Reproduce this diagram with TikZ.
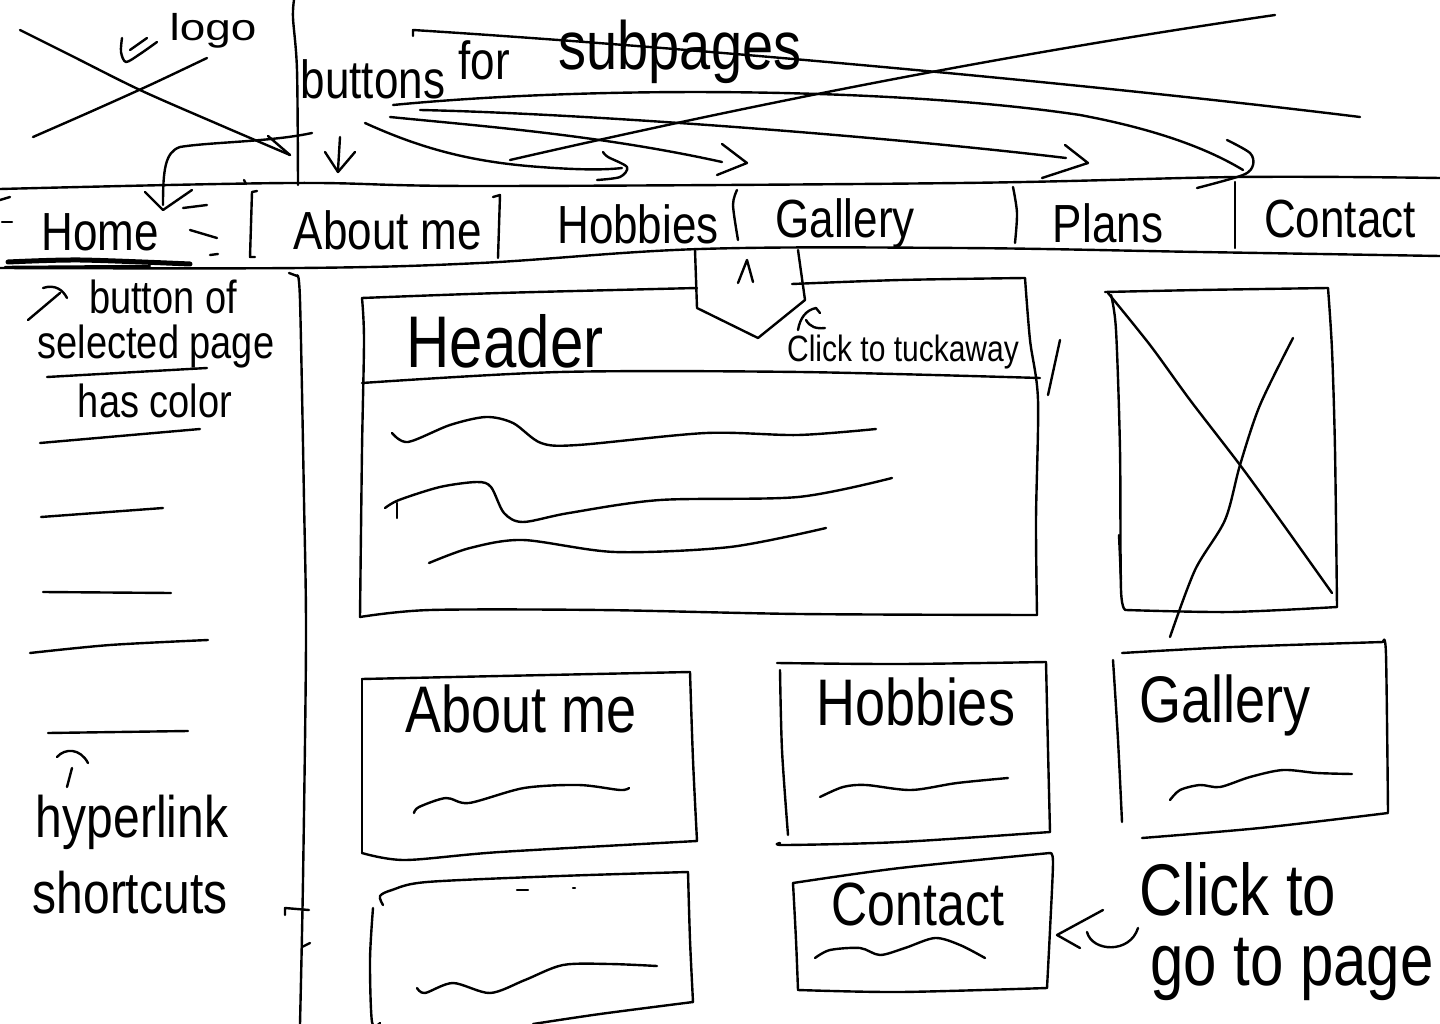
\documentclass[tikz,border=0pt]{standalone}
\usepackage{fontspec}
\usepackage{graphicx}
\setmainfont{Liberation Sans}
\usetikzlibrary{arrows.meta}
\newcommand{\stretchy}[1]{\scalebox{1}[1.22]{#1}}
\begin{document}
\begin{tikzpicture}[x=1pt,y=-1pt,
  ink/.style={line width=2.4pt, line cap=round, line join=round},
  marker/.style={line width=5pt, line cap=round},
  lbl/.style={anchor=base, inner sep=0pt},
  navtxt/.style={lbl, font=\fontsize{44}{50}\selectfont},
  boxtxt/.style={lbl, font=\fontsize{54}{60}\selectfont},
  notetxt/.style={lbl, font=\fontsize{38}{42}\selectfont},
  bigtxt/.style={lbl, font=\fontsize{60}{66}\selectfont},
]
\fill[white] (0,0) rectangle (1440,1024);
\useasboundingbox (0,0) rectangle (1440,1024);

% ---------- navigation bar ----------
\draw[ink] plot[smooth,tension=.6] coordinates {(0,189) (290,183) (480,186) (960,183) (1240,177) (1440,178)};
\draw[ink] plot[smooth,tension=.6] coordinates {(0,268) (300,268) (480,263) (700,249) (960,248) (1200,252) (1440,256)};
% separators between the buttons
\draw[ink] (257,191) -- (252,192) -- (250,257) -- (255,257);
\draw[ink] (244,180) -- (246,184);
\draw[ink] (493,197) -- (500,195) -- (498,258);
\draw[ink] plot[smooth] coordinates {(737,190) (733,205) (738,240)};
\draw[ink] plot[smooth] coordinates {(1013,187) (1017,213) (1015,243)};
\draw[ink] (1235,182) -- (1235,248);
% little dashes round the selected button
\draw[ink] (183,208) -- (207,205);
\draw[ink] (190,230) -- (217,238);
\draw[ink] (210,255) -- (218,254);
\draw[ink] (0,200) -- (10,197);
\draw[ink] (2,222) -- (12,222);
% colour mark under the selected button
\draw[marker] plot[smooth] coordinates {(8,262) (80,260) (190,264)};
\draw[ink] (5,267) -- (150,266);

\node[navtxt] (navHome)    at (100,251)  {\stretchy{Home}};
\node[navtxt] (navAbout)   at (388,250)  {\stretchy{About me}};
\node[navtxt] (navHobbies) at (638,244)  {\stretchy{Hobbies}};
\node[navtxt] (navGallery) at (845,238)  {\stretchy{Gallery}};
\node[navtxt] (navPlans)   at (1108,243) {\stretchy{Plans}};
\node[navtxt] (navContact) at (1340,238) {\stretchy{Contact}};

% ---------- left column divider ----------
\draw[ink] plot[smooth] coordinates {(294,0) (293,18) (297,70) (298,185)};
\draw[ink] (289,273) -- (297,276);
\draw[ink] plot[smooth] coordinates {(297,276) (300,300) (304,500) (306,640) (303,880) (300,1024)};
\draw[ink] (285,915) -- (285,908) -- (309,910);
\draw[ink] (302,947) -- (310,943);

% ---------- logo placeholder ----------
\draw[ink] plot[smooth] coordinates {(20,30) (70,55) (140,90) (220,125) (290,155)};
\draw[ink] (268,136) -- (290,155);
\draw[ink] plot[smooth] coordinates {(33,137) (90,112) (150,85) (207,58)};
\draw[ink] plot[smooth] coordinates {(122,38) (121,52) (126,62) (140,54) (157,42)};
\draw[ink] (130,50) -- (147,38);
\node[lbl, font=\fontsize{34}{38}\selectfont] (logoTxt) at (213,41) {\scalebox{1.35}[1.1]{logo}};

% ---------- note on the subpage buttons ----------
\node[navtxt] (btnTxt) at (373,99) {\stretchy{buttons}};
\node[navtxt] (forTxt) at (484,80) {\stretchy{for}};
\node[lbl, font=\fontsize{56}{60}\selectfont] (subTxt) at (680,70) {\stretchy{subpages}};

% arrow to the home button
\draw[ink] (312,133) .. controls (270,142) and (210,142) .. (180,147) .. controls (165,152) and (163,170) .. (163,205);
\draw[ink] (145,192) -- (163,210) -- (192,190);
% small down arrow
\draw[ink] (340,137) -- (338,170);
\draw[ink] (325,152) -- (338,172) -- (355,152);
% arrow to Hobbies
\draw[ink] (365,123) .. controls (420,148) and (470,162) .. (540,167) .. controls (580,170) and (605,170) .. (622,168);
\draw[ink] plot[smooth] coordinates {(603,152) (608,157) (627,167) (620,177) (597,180)};
% arrow to Gallery
\draw[ink] (390,117) .. controls (480,126) and (600,135) .. (722,162);
\draw[ink] (722,144) -- (747,163) -- (717,175);
% arrow to Plans
\draw[ink] (420,110) .. controls (600,114) and (900,138) .. (1066,158);
\draw[ink] (1065,145) -- (1088,163) -- (1042,178);
% arrow to Contact
\draw[ink] (393,105) .. controls (600,85) and (900,88) .. (1080,115) .. controls (1160,130) and (1210,150) .. (1243,170);
\draw[ink] plot[smooth] coordinates {(1227,140) (1250,153) (1253,165) (1243,175) (1197,188)};
% crossing-out strokes
\draw[ink] (413,36) -- (413,30) .. controls (700,48) and (1100,85) .. (1360,117);
\draw[ink] (510,160) .. controls (750,105) and (1000,55) .. (1275,15);

% ---------- sidebar notes ----------
\draw[ink] (28,320) -- (60,293);
\draw[ink] (43,288) .. controls (55,284) and (63,290) .. (67,298);
\node[notetxt] (noteSel1) at (163,313) {\stretchy{button of}};
\node[notetxt] (noteSel2) at (156,358) {\stretchy{selected page}};
\node[notetxt] (noteSel3) at (155,417) {\stretchy{has color}};
\draw[ink] (47,377) -- (207,368);
\draw[ink] (40,443) -- (200,429);
% shortcut links
\draw[ink] (41,517) -- (163,508);
\draw[ink] (43,592) -- (171,593);
\draw[ink] plot[smooth] coordinates {(30,653) (110,645) (208,640)};
\draw[ink] (48,733) -- (188,731);
\draw[ink] (72,768) -- (67,787);
\draw[ink] (57,757) .. controls (65,748) and (80,748) .. (88,763);
\node[lbl, font=\fontsize{48}{52}\selectfont] (noteLinks1) at (132,837) {\stretchy{hyperlink}};
\node[lbl, font=\fontsize{48}{52}\selectfont] (noteLinks2) at (130,913) {\stretchy{shortcuts}};

% ---------- header panel ----------
\draw[ink] plot[smooth] coordinates {(362,298) (500,293) (697,288)};
\draw[ink] plot[smooth] coordinates {(792,284) (900,280) (1025,278)};
\draw[ink] plot[smooth] coordinates {(1025,278) (1030,340) (1038,400) (1036,520) (1037,615)};
\draw[ink] plot[smooth] coordinates {(360,617) (430,610) (600,610) (800,614) (1037,615)};
\draw[ink] plot[smooth] coordinates {(362,298) (364,340) (362,450) (360,617)};
\draw[ink] plot[smooth] coordinates {(362,383) (560,372) (800,372) (1040,378)};
\node[lbl, font=\fontsize{60}{66}\selectfont] (headerTxt) at (505,367) {\stretchy{Header}};
% tuck-away tab
\draw[ink] (695,250) -- (697,308) -- (758,338) -- (805,300) -- (798,250);
\draw[ink] (738,283) -- (747,260) -- (753,282);
\draw[ink] (798,330) .. controls (800,318) and (806,310) .. (816,308) -- (820,313);
\draw[ink] (806,320) .. controls (810,327) and (816,329) .. (825,328);
\node[lbl, font=\fontsize{30}{34}\selectfont] (tuckTxt) at (903,361) {\stretchy{Click to tuckaway}};
\draw[ink] (1060,340) -- (1048,395);
% body text lines
\draw[ink] plot[smooth] coordinates {(392,433) (408,442) (450,425) (486,417) (513,423) (541,443) (578,445) (706,433) (798,435) (876,429)};
\draw[ink] (397,503) -- (397,518);
\draw[ink] plot[smooth] coordinates {(385,508) (399,500) (440,487) (477,482) (491,487) (504,513) (523,522) (569,513) (660,500) (798,497) (892,478)};
\draw[ink] plot[smooth] coordinates {(429,563) (470,548) (523,540) (615,552) (730,547) (826,528)};

% ---------- image placeholder ----------
\draw[ink] plot[smooth] coordinates {(1105,292) (1200,290) (1328,288)};
\draw[ink] plot[smooth] coordinates {(1328,288) (1332,350) (1335,450) (1337,607)};
\draw[ink] plot[smooth] coordinates {(1337,607) (1230,612) (1126,610)};
\draw[ink] plot[smooth] coordinates {(1126,610) (1121,590) (1120,450) (1116,330) (1111,295)};
\draw[ink] plot[smooth] coordinates {(1108,293) (1150,345) (1190,400) (1240,465) (1280,520) (1332,593)};
\draw[ink] plot[smooth] coordinates {(1293,338) (1260,405) (1240,465) (1225,520) (1195,570) (1170,637)};
\draw[ink] (1119,535) -- (1121,580);

% ---------- page cards ----------
% About me
\draw[ink] plot[smooth] coordinates {(362,679) (500,676) (690,672)};
\draw[ink] plot[smooth] coordinates {(690,672) (693,760) (697,841)};
\draw[ink] plot[smooth] coordinates {(697,841) (500,852) (405,860) (362,853)};
\draw[ink] plot[smooth] coordinates {(362,679) (362,760) (362,853)};
\node[boxtxt] (aboutTxt) at (521,732) {\stretchy{About me}};
\draw[ink] plot[smooth] coordinates {(414,813) (419,807) (446,798) (469,803) (524,788) (579,785) (620,790) (629,788)};
% Hobbies
\draw[ink] plot[smooth] coordinates {(777,663) (900,664) (1046,662)};
\draw[ink] plot[smooth] coordinates {(1046,662) (1048,750) (1050,832)};
\draw[ink] plot[smooth] coordinates {(1050,832) (900,842) (786,845) (780,843)};
\draw[ink] plot[smooth] coordinates {(780,670) (782,750) (788,835)};
\node[boxtxt] (hobbiesTxt) at (916,725) {\stretchy{Hobbies}};
\draw[ink] plot[smooth] coordinates {(820,797) (843,787) (866,785) (911,790) (957,783) (1008,778)};
% Gallery
\draw[ink] plot[smooth] coordinates {(1122,653) (1233,647) (1383,642)};
\draw[ink] plot[smooth] coordinates {(1383,642) (1386,655) (1388,812)};
\draw[ink] plot[smooth] coordinates {(1388,813) (1260,828) (1142,838)};
\draw[ink] plot[smooth] coordinates {(1113,660) (1118,740) (1122,822)};
\node[boxtxt] (galleryTxt) at (1225,722) {\stretchy{Gallery}};
\draw[ink] plot[smooth] coordinates {(1170,800) (1180,790) (1200,785) (1220,787) (1250,777) (1283,770) (1317,773) (1352,774)};
% untitled card
\draw[ink] plot[smooth] coordinates {(383,905) (380,896) (392,890) (427,882) (560,876) (688,872)};
\draw[ink] plot[smooth] coordinates {(373,908) (370,960) (372,1022) (380,1023)};
\draw[ink] plot[smooth] coordinates {(688,872) (690,940) (693,1002)};
\draw[ink] plot[smooth] coordinates {(693,1002) (600,1014) (533,1024)};
\draw[ink] (517,890) -- (528,890);
\draw[ink] (573,888) -- (575,888);
\draw[ink] plot[smooth] coordinates {(417,988) (425,993) (453,983) (490,993) (525,980) (563,965) (610,964) (657,966)};
% Contact
\draw[ink] plot[smooth] coordinates {(793,883) (900,868) (1050,853)};
\draw[ink] plot[smooth] coordinates {(1050,853) (1053,862) (1050,930) (1047,988)};
\draw[ink] plot[smooth] coordinates {(1047,988) (900,992) (798,990)};
\draw[ink] plot[smooth] coordinates {(793,883) (796,940) (798,990)};
\node[lbl, font=\fontsize{50}{56}\selectfont] (contactTxt) at (918,925) {\stretchy{Contact}};
\draw[ink] plot[smooth] coordinates {(815,958) (830,950) (860,948) (880,955) (905,948) (935,938) (960,945) (985,958)};

% ---------- note on the cards ----------
\draw[ink] (1103,910) -- (1057,935) -- (1080,948);
\draw[ink] (1087,932) .. controls (1092,952) and (1130,954) .. (1138,928);
\node[bigtxt] (gotoTxt1) at (1238,915) {\stretchy{Click to}};
\node[bigtxt] (gotoTxt2) at (1292,985) {\stretchy{go to page}};
\end{tikzpicture}
\end{document}
